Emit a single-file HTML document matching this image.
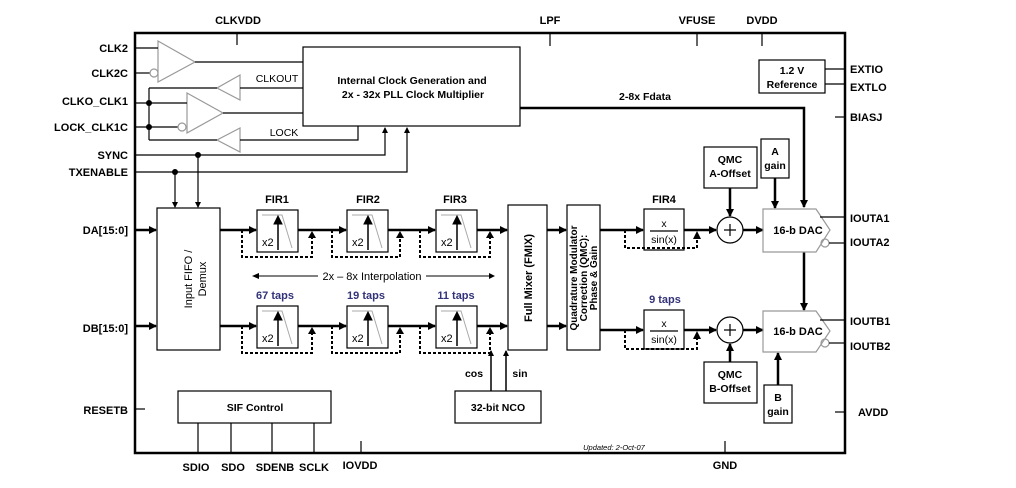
<!DOCTYPE html>
<html><head><meta charset="utf-8"><style>
html,body{margin:0;padding:0;background:#fff;}
svg{display:block;font-family:"Liberation Sans",Arial,sans-serif;font-weight:bold;}
</style></head><body>
<svg width="1016" height="488" viewBox="0 0 1016 488" xmlns="http://www.w3.org/2000/svg">
<defs>
<marker id="a" markerWidth="8" markerHeight="8" refX="7" refY="4" orient="auto" markerUnits="userSpaceOnUse"><path d="M0,0 L8,4 L0,8 z" fill="#000"/></marker>
<marker id="s" markerWidth="6" markerHeight="6" refX="5" refY="3" orient="auto" markerUnits="userSpaceOnUse"><path d="M0,0 L6,3 L0,6 z" fill="#000"/></marker>
</defs>
<rect width="1016" height="488" fill="#fff"/>
<rect x="135" y="33" width="710" height="420" fill="none" stroke="#000" stroke-width="2.5"/>
<g font-size="11" fill="#000">
<text x="238" y="24" text-anchor="middle">CLKVDD</text>
<text x="550" y="24" text-anchor="middle">LPF</text>
<text x="697" y="24" text-anchor="middle">VFUSE</text>
<text x="762" y="24" text-anchor="middle">DVDD</text>
<text x="128" y="52" text-anchor="end">CLK2</text>
<text x="128" y="77" text-anchor="end">CLK2C</text>
<text x="128" y="105" text-anchor="end">CLKO_CLK1</text>
<text x="128" y="131" text-anchor="end">LOCK_CLK1C</text>
<text x="128" y="159" text-anchor="end">SYNC</text>
<text x="128" y="176" text-anchor="end">TXENABLE</text>
<text x="128" y="234" text-anchor="end">DA[15:0]</text>
<text x="128" y="332" text-anchor="end">DB[15:0]</text>
<text x="128" y="414" text-anchor="end">RESETB</text>
<text x="850" y="73">EXTIO</text>
<text x="850" y="91">EXTLO</text>
<text x="850" y="121">BIASJ</text>
<text x="850" y="222">IOUTA1</text>
<text x="850" y="246">IOUTA2</text>
<text x="850" y="325">IOUTB1</text>
<text x="850" y="350">IOUTB2</text>
<text x="858" y="416">AVDD</text>
<text x="196" y="471" text-anchor="middle">SDIO</text>
<text x="233" y="471" text-anchor="middle">SDO</text>
<text x="275" y="471" text-anchor="middle">SDENB</text>
<text x="314" y="471" text-anchor="middle">SCLK</text>
<text x="360" y="469" text-anchor="middle">IOVDD</text>
<text x="725" y="469" text-anchor="middle">GND</text>
</g>
<g stroke="#000" stroke-width="1.2" fill="none">
<line x1="237" y1="33" x2="237" y2="45"/><line x1="550" y1="33" x2="550" y2="46"/><line x1="697" y1="33" x2="697" y2="46"/><line x1="762" y1="33" x2="762" y2="46"/>
<line x1="835" y1="117" x2="845" y2="117"/><line x1="835" y1="412" x2="845" y2="412"/>
<line x1="135" y1="409" x2="145" y2="409"/><line x1="361" y1="441" x2="361" y2="453"/><line x1="725" y1="441" x2="725" y2="453"/>
<rect x="303" y="47" width="217" height="79"/>
<path d="M158,41 L195,62 L158,82 z" stroke="#999"/>
<line x1="135" y1="48" x2="158" y2="48"/><line x1="135" y1="73" x2="150" y2="73"/>
<circle cx="154" cy="73" r="4" stroke="#999"/>
<line x1="195" y1="62" x2="303" y2="62"/>
<path d="M240,75 L217,88 L240,100 z" stroke="#999"/>
<line x1="240" y1="88" x2="303" y2="88"/>
<line x1="149" y1="88" x2="217" y2="88"/><line x1="149" y1="88" x2="149" y2="140"/>
<path d="M187,93 L223,113 L187,133 z" stroke="#999"/>
<line x1="223" y1="113" x2="303" y2="113"/>
<line x1="135" y1="103" x2="187" y2="103"/><line x1="135" y1="127" x2="178" y2="127"/>
<circle cx="182" cy="127" r="4" stroke="#999"/>
<path d="M240,128 L217,140 L240,152 z" stroke="#999"/>
<line x1="149" y1="140" x2="217" y2="140"/>
<polyline points="240,140 358,140 358,126"/>
<polyline points="135,155 385,155 385,128" marker-end="url(#s)"/>
<polyline points="135,172 407,172 407,128" marker-end="url(#s)"/>
<line x1="198" y1="155" x2="198" y2="207" marker-end="url(#s)"/>
<line x1="175" y1="172" x2="175" y2="207" marker-end="url(#s)"/>
<rect x="759" y="60" width="66" height="33"/>
<line x1="825" y1="69" x2="845" y2="69"/><line x1="825" y1="84" x2="845" y2="84"/>
</g>
<g fill="#000"><circle cx="149" cy="103" r="3"/><circle cx="149" cy="127" r="3"/><circle cx="198" cy="155" r="3"/><circle cx="175" cy="172" r="3"/></g>
<g font-size="10.5" text-anchor="middle" fill="#000" font-weight="normal">
<text x="277" y="82">CLKOUT</text><text x="284" y="136">LOCK</text>
</g>
<g font-size="10.5" text-anchor="middle" fill="#000">
<text x="412" y="84">Internal Clock Generation and</text>
<text x="413" y="98">2x - 32x PLL Clock Multiplier</text>
<text x="792" y="74">1.2 V</text><text x="792" y="88">Reference</text>
<text x="645" y="100">2-8x Fdata</text>
</g>
<g stroke="#000" stroke-width="2.5" fill="none">
<polyline points="520,108 804,108 804,207" marker-end="url(#a)"/>
</g>
<rect x="157" y="208" width="63" height="142" fill="none" stroke="#000" stroke-width="1.2"/>
<text transform="translate(192,279) rotate(-90)" font-size="11" text-anchor="middle" font-weight="normal">Input FIFO /</text>
<text transform="translate(206,279) rotate(-90)" font-size="11" text-anchor="middle" font-weight="normal">Demux</text>
<g stroke="#000" stroke-width="2.5" fill="none">
<line x1="135" y1="230" x2="156" y2="230" marker-end="url(#a)"/>
<line x1="135" y1="326" x2="156" y2="326" marker-end="url(#a)"/>
<line x1="220" y1="230" x2="256" y2="230" marker-end="url(#a)"/>
<line x1="298" y1="230" x2="346" y2="230" marker-end="url(#a)"/>
<line x1="388" y1="230" x2="435" y2="230" marker-end="url(#a)"/>
<line x1="477" y1="230" x2="507" y2="230" marker-end="url(#a)"/>
<line x1="220" y1="326" x2="256" y2="326" marker-end="url(#a)"/>
<line x1="298" y1="326" x2="346" y2="326" marker-end="url(#a)"/>
<line x1="388" y1="326" x2="435" y2="326" marker-end="url(#a)"/>
<line x1="477" y1="326" x2="507" y2="326" marker-end="url(#a)"/>
<line x1="547" y1="230" x2="566" y2="230" marker-end="url(#a)"/>
<line x1="547" y1="326" x2="566" y2="326" marker-end="url(#a)"/>
<line x1="600" y1="230" x2="643" y2="230" marker-end="url(#a)"/>
<line x1="600" y1="330" x2="643" y2="330" marker-end="url(#a)"/>
<line x1="684" y1="230" x2="716" y2="230" marker-end="url(#a)"/>
<line x1="684" y1="330" x2="716" y2="330" marker-end="url(#a)"/>
<line x1="743" y1="230" x2="763" y2="230" marker-end="url(#a)"/>
<line x1="743" y1="330" x2="763" y2="330" marker-end="url(#a)"/>
<line x1="730" y1="188" x2="730" y2="216" marker-end="url(#a)"/>
<line x1="730" y1="362" x2="730" y2="344" marker-end="url(#a)"/>
<line x1="775" y1="178" x2="775" y2="208" marker-end="url(#a)"/>
<line x1="778" y1="385" x2="778" y2="353" marker-end="url(#a)"/>
<line x1="804" y1="252" x2="804" y2="310" marker-end="url(#a)"/>
<line x1="491" y1="391" x2="491" y2="351" marker-end="url(#s)" stroke-width="1.5"/>
<line x1="506" y1="391" x2="506" y2="351" marker-end="url(#s)" stroke-width="1.5"/>
</g>
<g stroke="#000" stroke-width="2" stroke-dasharray="3,2" fill="none">
<polyline points="242,230 242,257 312,257 312,238"/>
<polyline points="332,230 332,257 400,257 400,238"/>
<polyline points="420,230 420,257 490,257 490,238"/>
<polyline points="242,326 242,353 312,353 312,334"/>
<polyline points="332,326 332,353 400,353 400,334"/>
<polyline points="420,326 420,353 490,353 490,334"/>
<polyline points="625,230 625,248 697,248 697,238"/>
<polyline points="625,330 625,349 697,349 697,338"/>
</g>
<g fill="#000">
<path d="M308,238 L312,231 L316,238z"/><path d="M396,238 L400,231 L404,238z"/><path d="M486,238 L490,231 L494,238z"/>
<path d="M308,334 L312,327 L316,334z"/><path d="M396,334 L400,327 L404,334z"/><path d="M486,334 L490,327 L494,334z"/>
<path d="M693,239 L697,231 L701,239z"/><path d="M693,339 L697,331 L701,339z"/>
</g>
<g id="fir" stroke="#000" fill="none">
<rect x="257" y="210" width="41" height="42" stroke-width="1.2"/>
<path d="M262,215 L282,215 L292,248" stroke="#aaa"/>
<line x1="278" y1="250" x2="278" y2="222" stroke-width="1.5"/>
<path d="M274,224 L278,216 L282,224z" fill="#000"/>
</g>
<use href="#fir" x="90"/><use href="#fir" x="179"/>
<use href="#fir" y="96"/><use href="#fir" x="90" y="96"/><use href="#fir" x="179" y="96"/>
<g font-size="11" fill="#000">
<text x="262" y="246" font-weight="normal">x2</text><text x="352" y="246" font-weight="normal">x2</text><text x="441" y="246" font-weight="normal">x2</text>
<text x="262" y="342" font-weight="normal">x2</text><text x="352" y="342" font-weight="normal">x2</text><text x="441" y="342" font-weight="normal">x2</text>
<text x="277" y="203" text-anchor="middle">FIR1</text><text x="368" y="203" text-anchor="middle">FIR2</text><text x="455" y="203" text-anchor="middle">FIR3</text>
<text x="664" y="203" text-anchor="middle">FIR4</text>
<g fill="#33337a"><text x="275" y="299" text-anchor="middle">67 taps</text><text x="366" y="299" text-anchor="middle">19 taps</text><text x="456" y="299" text-anchor="middle">11 taps</text><text x="665" y="303" text-anchor="middle">9 taps</text></g>
<text x="372" y="280" text-anchor="middle" font-weight="normal">2x – 8x Interpolation</text>
</g>
<g stroke="#000" stroke-width="1" fill="none">
<line x1="258" y1="276" x2="318" y2="276"/>
<line x1="426" y1="276" x2="494" y2="276" marker-end="url(#s)"/>
</g>
<path d="M252,276 L259,273 L259,279z" fill="#000"/>
<g stroke="#000" stroke-width="1.2" fill="none">
<rect x="508" y="205" width="39" height="145"/>
<rect x="567" y="205" width="33" height="145"/>
<rect x="644" y="209" width="40" height="41"/>
<rect x="644" y="310" width="40" height="39"/>
<circle cx="730" cy="230" r="13"/><circle cx="730" cy="330" r="13"/>
<path d="M724,230 h12 M730,224 v12 M724,330 h12 M730,324 v12"/>
<rect x="704" y="147" width="53" height="41"/>
<rect x="761" y="139" width="28" height="39"/>
<rect x="704" y="362" width="53" height="41"/>
<rect x="764" y="385" width="28" height="38"/>
<path d="M763,209 L816,209 L830,230 L816,252 L763,252 z" stroke="#999"/>
<path d="M763,311 L816,311 L830,331 L816,352 L763,352 z" stroke="#999"/>
<line x1="820" y1="217" x2="845" y2="217"/><circle cx="825" cy="243" r="4" stroke="#999"/><line x1="829" y1="243" x2="845" y2="243"/>
<line x1="820" y1="320" x2="845" y2="320"/><circle cx="825" cy="343" r="4" stroke="#999"/><line x1="829" y1="343" x2="845" y2="343"/>
<line x1="650" y1="231" x2="678" y2="231"/><line x1="650" y1="331" x2="678" y2="331"/>
<rect x="178" y="391" width="153" height="32"/>
<line x1="198" y1="423" x2="198" y2="453"/><line x1="231" y1="423" x2="231" y2="453"/><line x1="272" y1="423" x2="272" y2="453"/><line x1="314" y1="423" x2="314" y2="453"/>
<rect x="455" y="391" width="86" height="32"/>
</g>
<text transform="translate(532,278) rotate(-90)" font-size="11" text-anchor="middle">Full Mixer (FMIX)</text>
<text transform="translate(577,278) rotate(-90)" font-size="10" text-anchor="middle">Quadrature Modulator</text>
<text transform="translate(587,278) rotate(-90)" font-size="10" text-anchor="middle">Correction (QMC):</text>
<text transform="translate(597,278) rotate(-90)" font-size="10" text-anchor="middle">Phase &amp; Gain</text>
<g font-size="10.5" text-anchor="middle" fill="#000">
<text x="664" y="227" font-weight="normal">x</text><text x="664" y="243" font-weight="normal">sin(x)</text>
<text x="664" y="327" font-weight="normal">x</text><text x="664" y="343" font-weight="normal">sin(x)</text>
<text x="730" y="163">QMC</text><text x="730" y="177">A-Offset</text>
<text x="775" y="155">A</text><text x="775" y="169">gain</text>
<text x="730" y="378">QMC</text><text x="730" y="392">B-Offset</text>
<text x="778" y="401">B</text><text x="778" y="415">gain</text>
<text x="798" y="234" font-size="11">16-b DAC</text>
<text x="798" y="335" font-size="11">16-b DAC</text>
<text x="255" y="411">SIF Control</text>
<text x="498" y="411">32-bit NCO</text>
<text x="474" y="377">cos</text><text x="520" y="377">sin</text>
<text x="614" y="450" font-size="7.5" font-style="italic" font-weight="normal">Updated: 2-Oct-07</text>
</g>
</svg>
</body></html>
